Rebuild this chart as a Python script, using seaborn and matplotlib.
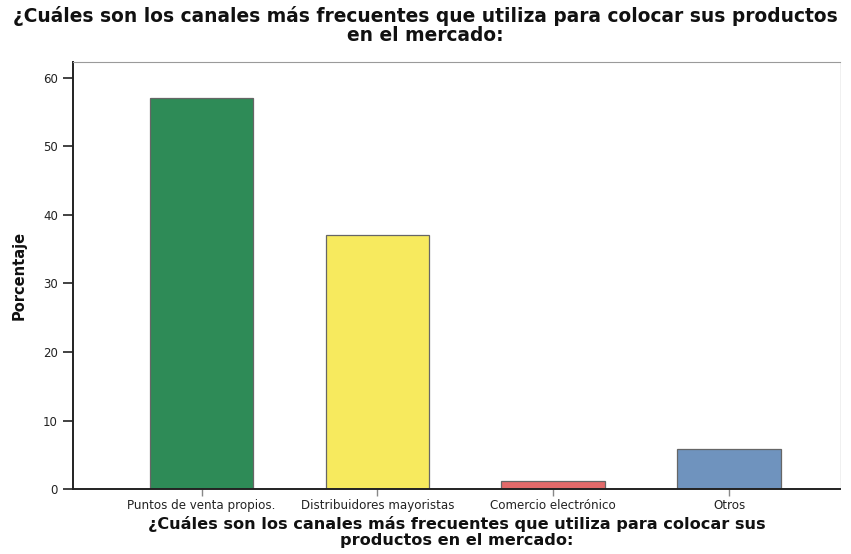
import matplotlib
matplotlib.use("Agg")
import matplotlib.pyplot as plt
import seaborn as sns
import pandas as pd

# Data
categorias = ["Puntos de venta propios.", "Distribuidores mayoristas",
              "Comercio electrónico", "Otros"]
porcentajes = [57.0, 37.1, 1.2, 5.8]
colores = ["#2E8B57", "#F7EA5E", "#E36A6A", "#6F93BE"]
yticks = [0, 10, 20, 30, 40, 50, 60]

titulo = "¿Cuáles son los canales más frecuentes que utiliza para colocar sus productos\nen el mercado:"
etiqueta_x = "¿Cuáles son los canales más frecuentes que utiliza para colocar sus\nproductos en el mercado:"
etiqueta_y = "Porcentaje"

sns.set_theme(style="white")
plt.rcParams["font.family"] = ["DejaVu Sans"]

df = pd.DataFrame({"canal": categorias, "pct": porcentajes})

fig = plt.figure(figsize=(8.51, 5.54), dpi=100)
ax = fig.add_axes([0.086, 0.117, 0.901, 0.771])

sns.barplot(data=df, x="canal", y="pct", hue="canal", palette=colores,
            saturation=1, width=0.59, edgecolor="#666666", linewidth=0.9,
            legend=False, ax=ax)

ax.set_xlim(-0.73, 3.63)
ax.set_ylim(0, 62.3)
ax.set_yticks(yticks)
ax.set_yticklabels([str(v) for v in yticks], fontsize=8.5, color="#222222")
ax.tick_params(axis="y", left=True, direction="out", length=7, width=1.2,
               color="#222222", pad=4)
ax.tick_params(axis="x", bottom=True, direction="out", length=5, width=1,
               color="#888888", pad=2, labelsize=8.6, labelcolor="#222222")

for side in ["left", "bottom"]:
    ax.spines[side].set_visible(True)
    ax.spines[side].set_color("#222222")
    ax.spines[side].set_linewidth(1.4)
ax.spines["top"].set_visible(True)
ax.spines["top"].set_color("#9a9a9a")
ax.spines["top"].set_linewidth(0.8)
ax.spines["right"].set_visible(True)
ax.spines["right"].set_color("#eeeeee")
ax.spines["right"].set_linewidth(0.6)

ax.set_ylabel(etiqueta_y, fontsize=10.5, fontweight="bold", labelpad=12, color="#111111")
ax.set_xlabel(etiqueta_x, fontsize=11.6, fontweight="bold", labelpad=3,
              linespacing=1.05, color="#111111")

fig.suptitle(titulo, fontsize=13.4, fontweight="bold", x=0.5, y=0.99,
             linespacing=1.05, color="#111111")

fig.savefig("out.png", dpi=100, facecolor="white")
